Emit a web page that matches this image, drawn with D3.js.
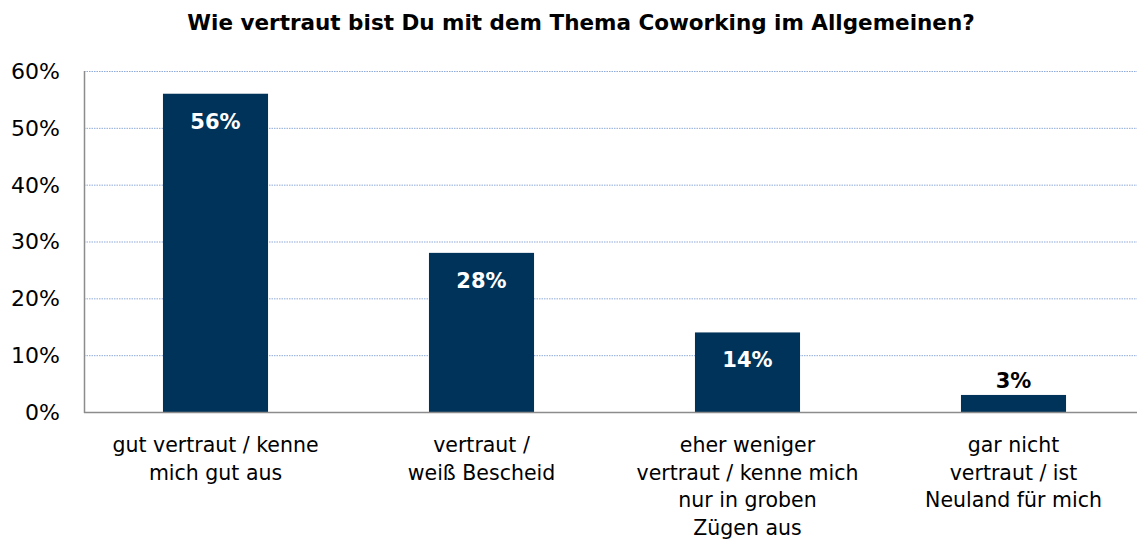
<!DOCTYPE html>
<html><head><meta charset="utf-8">
<script src="https://cdn.jsdelivr.net/npm/d3@7"></script>
<style>body{margin:0;background:#fff}svg{display:block}</style>
</head><body>
<svg id="c" width="1137" height="542"></svg>
<script>
const title = "Wie vertraut bist Du mit dem Thema Coworking im Allgemeinen?";
const categories = [
  ["gut vertraut / kenne", "mich gut aus"],
  ["vertraut /", "weiß Bescheid"],
  ["eher weniger", "vertraut / kenne mich", "nur in groben", "Zügen aus"],
  ["gar nicht", "vertraut / ist", "Neuland für mich"]
];
const values = [56, 28, 14, 3];
const yTicks = [0, 10, 20, 30, 40, 50, 60];

const font = "'DejaVu Sans', sans-serif";
const svg = d3.select("#c");
const x = d3.scaleBand().domain(d3.range(values.length)).range([82.5, 1146.5]).paddingInner(0.605).paddingOuter(0.3025);
const y = d3.scaleLinear().domain([0, 60]).range([412, 71]);

svg.append("text").attr("x", 581).attr("y", 30).attr("text-anchor", "middle")
  .style("font-family", font).style("font-weight", "bold").style("font-size", "21.5px").attr("fill", "#000").text(title);

// grid
svg.append("g").selectAll("line").data(yTicks.filter(d => d > 0)).join("line")
  .attr("x1", 84).attr("x2", 1137).attr("y1", d => y(d) + 0.5).attr("y2", d => y(d) + 0.5)
  .attr("stroke", "#8fabd9").attr("stroke-width", 1).attr("stroke-dasharray", "1.5,1");

// y tick labels
svg.append("g").selectAll("text").data(yTicks).join("text")
  .attr("x", 60).attr("y", d => y(d)).attr("dy", "0.36em").attr("text-anchor", "end")
  .style("font-family", font).style("font-size", "22px").attr("fill", "#000").text(d => d + "%");

// bars
svg.append("g").selectAll("rect").data(values).join("rect")
  .attr("x", (d, i) => x(i)).attr("width", x.bandwidth())
  .attr("y", d => y(d)).attr("height", d => y(0) - y(d)).attr("fill", "#003359");

// axes lines
svg.append("line").attr("x1", 84.5).attr("x2", 84.5).attr("y1", 71).attr("y2", 413).attr("stroke", "#8c8c8c").attr("stroke-width", 1.5);
svg.append("line").attr("x1", 84).attr("x2", 1137).attr("y1", 412.5).attr("y2", 412.5).attr("stroke", "#8c8c8c").attr("stroke-width", 1.5);

// value labels
svg.append("g").selectAll("text").data(values).join("text")
  .attr("x", (d, i) => x(i) + x.bandwidth() / 2)
  .attr("y", d => d >= 10 ? y(d) + 35 : y(d) - 7)
  .attr("text-anchor", "middle")
  .style("font-family", font).style("font-weight", "bold").style("font-size", "21px")
  .attr("fill", d => d >= 10 ? "#fff" : "#000").text(d => d + "%");

// category labels
const cg = svg.append("g").selectAll("text").data(categories).join("text")
  .attr("text-anchor", "middle").style("font-family", font).style("font-size", "20.5px").attr("fill", "#000");
cg.selectAll("tspan").data((d, i) => d.map(l => ({l, i}))).join("tspan")
  .attr("x", d => x(d.i) + x.bandwidth() / 2)
  .attr("y", (d, j) => 452 + j * 27.5)
  .text(d => d.l);
</script>
</body></html>
